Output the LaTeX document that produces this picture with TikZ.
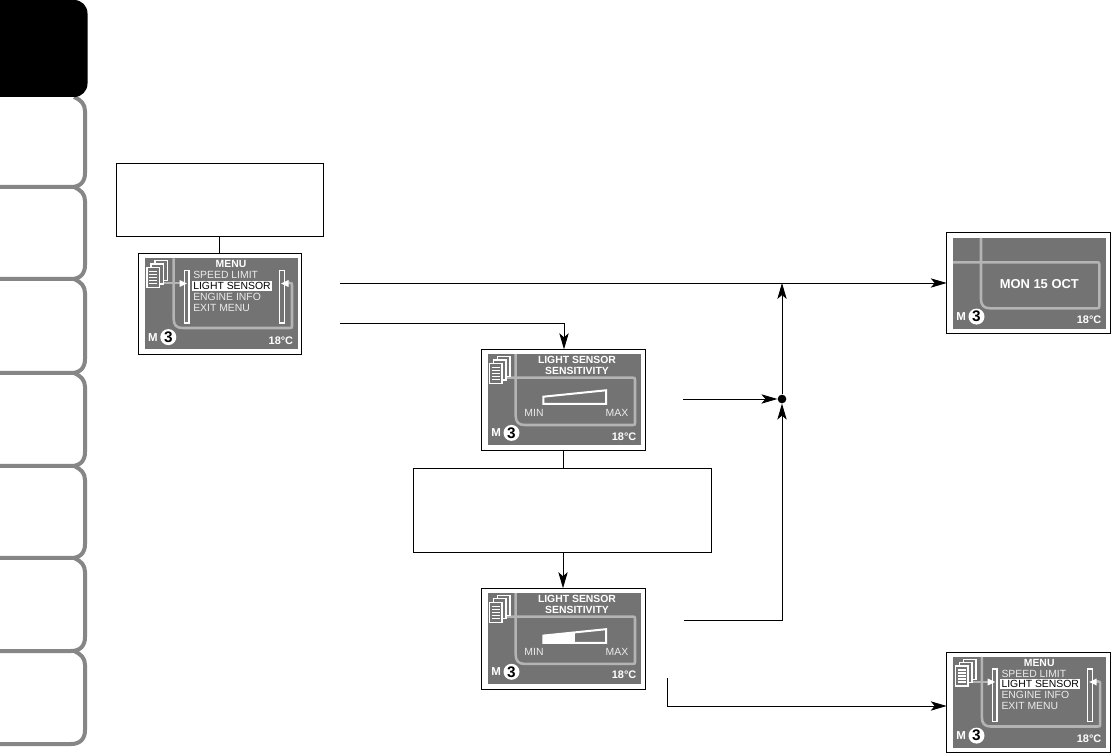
\documentclass[tikz,border=0pt]{standalone}
\usepackage{fontspec}
\setmainfont{Liberation Sans}
\usetikzlibrary{arrows.meta}
\definecolor{lcd}{HTML}{737373}
\definecolor{trace}{HTML}{B4B4B4}
\definecolor{tabgrey}{HTML}{868686}
\definecolor{lcdtext}{HTML}{ECECEC}
\tikzset{
  x=0.75pt,y=-0.75pt,
  emptybox/.style={draw=black,line width=0.75pt,fill=white,inner sep=0pt,outer sep=0pt},
  screenframe/.style={emptybox,anchor=north west,minimum width=122.6pt,minimum height=75.6pt},
  wire/.style={black,line width=0.65pt},
  arrowwire/.style={wire,-{Stealth[length=12pt,width=7pt,inset=3pt]}},
  lcdface/.style={fill=lcd,draw=none},
  traceline/.style={draw=trace,line width=1.9pt},
  tabline/.style={draw=tabgrey,line width=3pt},
  lcdlabel/.style={inner sep=0pt,outer sep=0pt,text=white,font=\fontsize{7.8}{9}\selectfont},
  lcdbold/.style={lcdlabel,font=\fontsize{7.8}{9}\selectfont\bfseries},
  menuitem/.style={lcdlabel,anchor=west,text=lcdtext},
  bigdate/.style={lcdlabel,font=\fontsize{9.7}{11}\selectfont\bfseries},
  circnum/.style={circle,fill=white,inner sep=0pt,minimum size=12pt,text=black,font=\fontsize{11.5}{11}\selectfont\bfseries},
  pagesheet/.style={draw=white,line width=1pt,fill=lcd},
  barrect/.style={draw=white,line width=1.1pt,fill=lcd},
  whitetip/.style={fill=white,draw=none}
}
\newcommand{\lcdbase}{%
  \fill[lcdface] (6.5,4.8) rectangle (159.3,95.6);
}
\newcommand{\lcdstatus}[1]{%
  \node[lcdbold,font=\fontsize{8.6}{9}\selectfont\bfseries] (#1m) at (14.5,83.6) {M};
  \node[circnum] (#1n) at (29.8,83.6) {3};
  \node[lcdbold,font=\fontsize{8.2}{9}\selectfont\bfseries,anchor=east] (#1t) at (154.6,87) {18°C};
}
\newcommand{\pagestack}[2]{%
  \begin{scope}[shift={(#1,#2)}]
    \foreach \d in {8,4,0} {
      \filldraw[pagesheet] (\d,-\d*0.85) rectangle ++(12.8,20);
    }
    \foreach \yy in {4,7,10,13,16} {
      \draw[white,line width=0.8pt] (2.4,\yy) -- (10.4,\yy);
    }
  \end{scope}
}
\newcommand{\traceloop}[5]{% x, bottom, right, top, end
  \draw[traceline,line join=round] (#1,4.8) -- (#1,{#2-9}) arc[start angle=180,end angle=90,radius=9] -- ({#3-3},#2)
     arc[start angle=90,end angle=0,x radius=3,y radius=-3] -- (#3,{#4+3})
     arc[start angle=0,end angle=90,x radius=3,y radius=3] -- (#5,#4);
}
\newcommand{\menuscreen}[3]{%
  \node[screenframe] (#1) at (#2,#3) {};
  \begin{scope}[shift={(#2,#3)}]
    \lcdbase
    \draw[traceline] (35.2,4.8) -- (35.2,65.5) .. controls (35.2,71.5) and (38,74.5) .. (44,74.5) -- (151.5,74.5)
       .. controls (153,74.5) and (153.5,74) .. (153.5,72.5) -- (153.5,31.5)
       .. controls (153.5,30) and (153,29.5) .. (151.5,29.5) -- (146,29.5);
    \draw[trace,line width=1.5pt] (21,29.5) -- (44,29.5);
    \pagestack{8.5}{14}
    \filldraw[barrect] (46,17) rectangle (50.5,69.5);
    \filldraw[barrect] (141,17) rectangle (146,69.5);
    \fill[whitetip] (41,26.5) -- (48.5,30) -- (41,33.5) -- cycle;
    \fill[whitetip] (150,26.5) -- (142.5,30) -- (150,33.5) -- cycle;
    \fill[white] (53.5,27.2) rectangle (133,37.2);
    \node[lcdbold] (#1a) at (92.5,10.7) {MENU};
    \node[menuitem] (#1b) at (54.8,21.5) {SPEED LIMIT};
    \node[menuitem,text=black] (#1c) at (54.8,32.4) {LIGHT SENSOR};
    \node[menuitem] (#1d) at (54.8,43.4) {ENGINE INFO};
    \node[menuitem] (#1e) at (54.8,54.4) {EXIT MENU};
    \lcdstatus{#1}
  \end{scope}
}
\newcommand{\sensorscreen}[4]{%
  \node[screenframe] (#1) at (#2,#3) {};
  \begin{scope}[shift={(#2,#3)}]
    \lcdbase
    \draw[traceline] (34,4.8) -- (34,66.7) .. controls (34,72.7) and (37,75.7) .. (43,75.7) -- (151.3,75.7)
       .. controls (152.8,75.7) and (153.3,75.2) .. (153.3,73.7) -- (153.3,30.4)
       .. controls (153.3,28.9) and (152.8,28.4) .. (151.3,28.4) -- (21,28.4);
    \pagestack{7.6}{14}
    \draw[white,line width=1.5pt,line join=miter] (61.6,47.4) -- (124.3,41) -- (124.3,54.7) -- (61.6,54.7) -- cycle;
    #4
    \node[lcdbold] (#1a) at (95.3,10.8) {LIGHT SENSOR};
    \node[lcdbold] (#1b) at (95.3,21.5) {SENSITIVITY};
    \node[lcdlabel,text=lcdtext] (#1c) at (52.3,63.4) {MIN};
    \node[lcdlabel,text=lcdtext] (#1d) at (135.3,63.4) {MAX};
    \lcdstatus{#1}
  \end{scope}
}
\newcommand{\sidetab}[2]{%
  \draw[tabline] (0,#2) -- (71,#2) .. controls (80,#2) and (85,{#2-5}) .. (85,{#2-14})
     -- (85,{#1+14}) .. controls (85,{#1+7}) and (81,{#1+3}) .. (74,{#1});
}
\begin{document}
\begin{tikzpicture}
\useasboundingbox (0,0) rectangle (1111,755);
\fill[white] (0,0) rectangle (1111,755);
% side tabs
\sidetab{97}{187}
\sidetab{187}{279}
\sidetab{279}{373}
\sidetab{373}{466}
\sidetab{466}{558}
\sidetab{558}{651}
\sidetab{651}{744}
\fill[black,rounded corners=10pt] (-20,0) rectangle (87.5,97);
% empty text boxes
\node[emptybox,minimum width=154.8pt,minimum height=54.6pt] (boxa) at (220,199.7) {};
\node[emptybox,minimum width=223.5pt,minimum height=63pt] (boxb) at (562,511) {};
% screens
\menuscreen{sa}{138.5}{253.5}
\sensorscreen{sb}{481.7}{349.3}{}
\sensorscreen{sc}{481.7}{588.2}{\fill[white] (61.6,47.4) -- (92.3,44.3) -- (92.3,54.7) -- (61.6,54.7) -- cycle;\draw[white,line width=0.9pt] (92.3,44.3) -- (92.3,54.7);}
\node[screenframe] (sd) at (946.7,233) {};
\begin{scope}[shift={(946.7,233)}]
  \lcdbase
  \draw[traceline] (34.3,4.8) -- (34.3,66.3) .. controls (34.3,72.3) and (37.3,75.3) .. (43.3,75.3) -- (150.6,75.3)
     .. controls (152.1,75.3) and (152.6,74.8) .. (152.6,73.3) -- (152.6,31.3)
     .. controls (152.6,29.8) and (152.1,29.3) .. (150.6,29.3) -- (6.5,29.3);
  \node[bigdate] (sdtext) at (92.6,51) {MON 15 OCT};
  \lcdstatus{sd}
\end{scope}
\menuscreen{se}{946.7}{652}
% free ends
\coordinate (a1) at (340,283);
\coordinate (a2) at (340,323);
\coordinate (a2b) at (564,323);
\coordinate (b1) at (683,399);
\coordinate (c1) at (684,620);
\coordinate (c1b) at (782,620);
\coordinate (c2) at (667,678);
\coordinate (c2b) at (667,706);
\coordinate (up) at (782,283);
\node[circle,fill=black,inner sep=0pt,minimum size=6.5pt] (dot) at (782,399) {};
% connectors
\draw[wire] (boxa.south -| 219,0) -- (sa.north -| 219,0);
\draw[arrowwire] (a1) -- (a1 -| sd.west);
\draw[arrowwire] (a2) -- (a2b) -- (sb.north -| a2b);
\draw[arrowwire] (b1) -- (dot.west);
\draw[arrowwire] (dot.north) -- (up);
\draw[arrowwire] (c1) -- (c1b) -- (dot.south);
\draw[wire] (sb.south -| 563,0) -- (boxb.north -| 563,0);
\draw[arrowwire] (boxb.south -| 563,0) -- (sc.north -| 563,0);
\draw[arrowwire] (c2) -- (c2b) -- (c2b -| se.west);
\end{tikzpicture}
\end{document}
